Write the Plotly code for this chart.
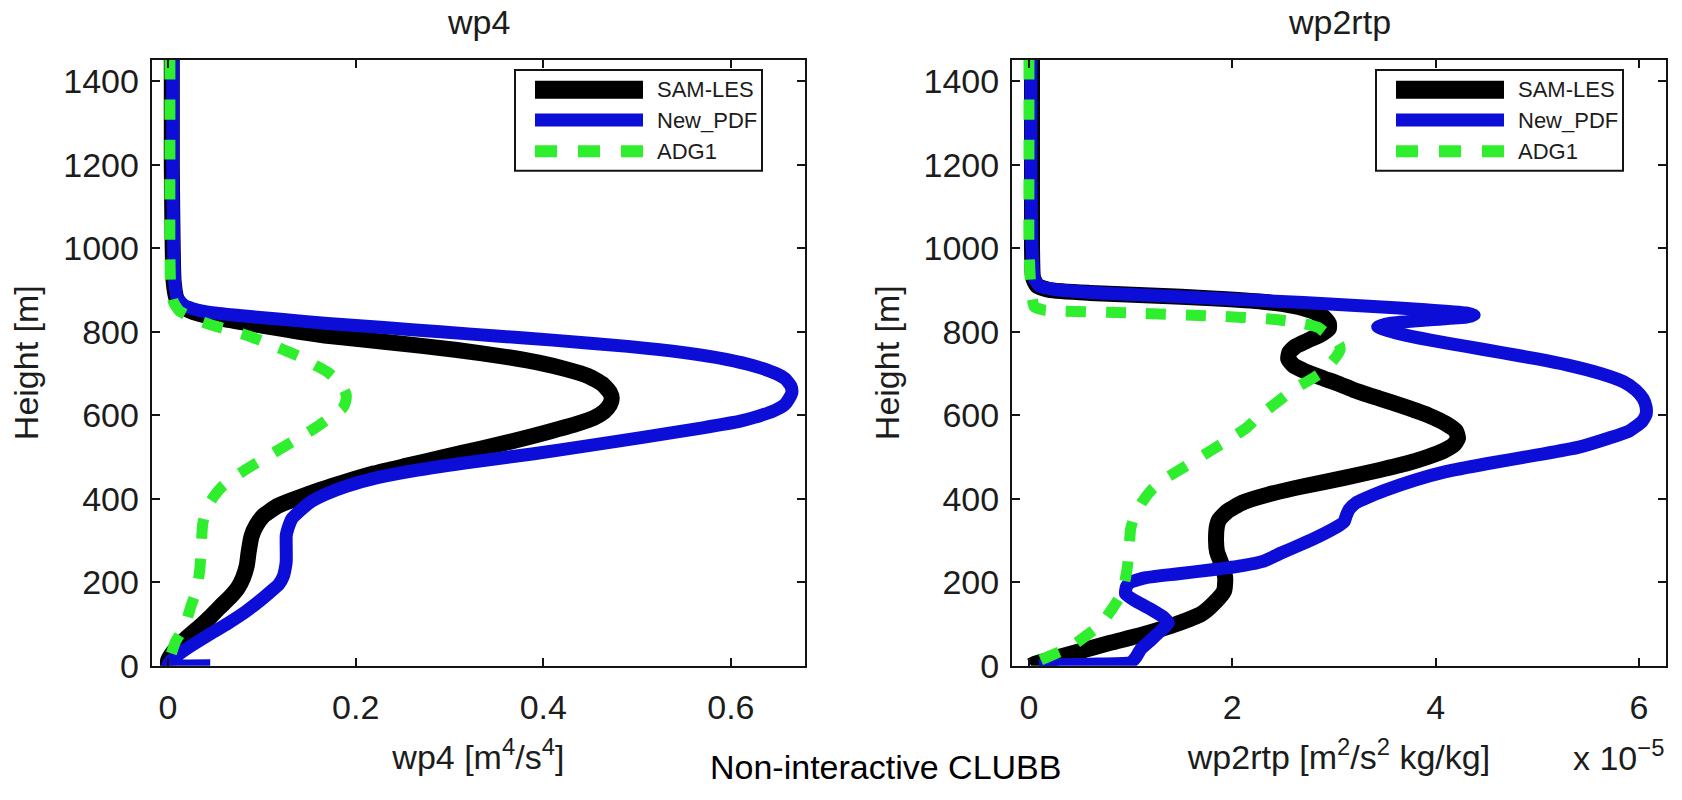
import numpy as np
import plotly.graph_objects as go

W, H = 1682, 800

# ---------------- data ----------------
SERIES = ["SAM-LES", "New_PDF", "ADG1"]
COLORS = ["#000000", "#0d0dd8", "#2eee2e"]
WIDTHS = [16, 13, 11]
DASHES = ["solid", "solid", "20px,20px"]

# wp4 panel  (height [m], wp4 [m^4/s^4])
WP4_SAM_H = [1452, 1200, 1000, 920, 880, 860, 845, 830, 815, 800, 789, 775, 757, 740, 726, 710, 694, 675,
             655, 640, 625, 609, 595, 578, 560, 539, 520, 500, 480, 461, 440, 422, 400, 383, 360, 336, 310,
             273, 240, 211, 185, 164, 140, 117, 98, 75, 50, 28, 12, 0]
WP4_SAM_V = [0.004, 0.004, 0.005, 0.006, 0.009, 0.015, 0.03, 0.06, 0.10, 0.14, 0.175, 0.235, 0.306, 0.36,
             0.395, 0.425, 0.448, 0.463, 0.471, 0.473, 0.471, 0.465, 0.455, 0.434, 0.405, 0.369, 0.333,
             0.294, 0.256, 0.22, 0.188, 0.163, 0.136, 0.117, 0.102, 0.094, 0.089, 0.086, 0.084, 0.08,
             0.074, 0.066, 0.055, 0.045, 0.036, 0.024, 0.012, 0.004, 0.0, 0.0]

WP4_NEW_H = [1452, 1200, 1000, 920, 880, 862, 850, 840, 830, 820, 810, 800, 790, 780, 765, 750, 734, 718,
             700, 687, 670, 655, 640, 625, 610, 595, 586, 570, 547, 528, 508, 490, 469, 450, 430, 410, 391,
             370, 352, 330, 312, 280, 250, 234, 215, 195, 175, 156, 130, 102, 75, 47, 25, 10, 2, 0, 0]
WP4_NEW_V = [0.005, 0.005, 0.006, 0.007, 0.01, 0.018, 0.035, 0.07, 0.12, 0.17, 0.23, 0.29, 0.35, 0.41,
             0.49, 0.55, 0.595, 0.625, 0.648, 0.658, 0.664, 0.665, 0.662, 0.657, 0.645, 0.625, 0.61, 0.57,
             0.506, 0.45, 0.39, 0.33, 0.266, 0.222, 0.19, 0.167, 0.151, 0.14, 0.132, 0.128, 0.126, 0.126,
             0.126, 0.125, 0.123, 0.118, 0.108, 0.098, 0.083, 0.064, 0.044, 0.024, 0.01, 0.002, 0.0, 0.01,
             0.045]

WP4_ADG_H = [1452, 1200, 1000, 900, 870, 850, 840, 828, 815, 804, 790, 773, 757, 741, 720, 702, 680, 660,
             648, 630, 617, 600, 570, 540, 508, 480, 453, 430, 406, 385, 367, 340, 312, 270, 234, 200, 172,
             140, 117, 95, 58, 25, 0]
WP4_ADG_V = [0.002, 0.002, 0.002, 0.003, 0.006, 0.012, 0.02, 0.031, 0.048, 0.066, 0.086, 0.106, 0.123,
             0.14, 0.157, 0.171, 0.182, 0.188, 0.19, 0.189, 0.186, 0.176, 0.157, 0.135, 0.111, 0.09, 0.071,
             0.058, 0.049, 0.043, 0.04, 0.037, 0.036, 0.035, 0.034, 0.032, 0.029, 0.024, 0.021, 0.018,
             0.008, 0.003, 0.0]

# wp2rtp panel (height [m], wp2rtp in units of 1e-5 m^2/s^2 kg/kg)
WP2_SAM_H = [1452, 1200, 1000, 930, 910, 900, 893, 887, 880, 872, 862, 850, 835, 820, 808, 795, 780, 765,
             750, 735, 720, 705, 690, 675, 660, 640, 620, 600, 580, 562, 545, 530, 515, 500, 485, 469, 450,
             430, 410, 391, 370, 350, 336, 300, 273, 240, 211, 180, 150, 125, 100, 75, 55, 35, 18, 5, 0]
WP2_SAM_V = [0.03, 0.03, 0.03, 0.04, 0.08, 0.2, 0.6, 1.2, 1.8, 2.3, 2.6, 2.78, 2.9, 2.95, 2.95, 2.88, 2.75,
             2.62, 2.56, 2.55, 2.6, 2.72, 2.88, 3.05, 3.2, 3.45, 3.7, 3.93, 4.1, 4.2, 4.22, 4.18, 4.08, 3.92,
             3.72, 3.45, 3.1, 2.7, 2.35, 2.1, 1.95, 1.87, 1.85, 1.84, 1.85, 1.9, 1.93, 1.92, 1.82, 1.7,
             1.45, 1.12, 0.8, 0.5, 0.25, 0.06, 0.02]

WP2_NEW_H = [1452, 1200, 1000, 930, 910, 900, 893, 886, 878, 870, 862, 853, 845, 840, 835, 828, 820, 812,
             805, 795, 780, 765, 750, 735, 720, 700, 680, 660, 640, 620, 602, 585, 562, 545, 523, 505, 484,
             465, 445, 420, 400, 391, 375, 359, 345, 336, 310, 289, 270, 250, 240, 230, 220, 211, 200, 190,
             172, 155, 135, 115, 102, 85, 62, 40, 20, 8, 4, 2, 0]
WP2_NEW_V = [0.02, 0.02, 0.03, 0.05, 0.1, 0.3, 0.7, 1.3, 2.0, 2.7, 3.3, 3.9, 4.3, 4.38, 4.3, 3.9, 3.55, 3.43,
             3.5, 3.65, 3.95, 4.3, 4.65, 5.0, 5.3, 5.62, 5.85, 5.97, 6.04, 6.07, 6.07, 6.03, 5.9, 5.7, 5.4,
             5.0, 4.5, 4.1, 3.8, 3.5, 3.3, 3.22, 3.15, 3.12, 3.1, 3.05, 2.85, 2.66, 2.48, 2.3, 2.1, 1.8, 1.45,
             1.15, 1.0, 0.96, 0.95, 1.05, 1.2, 1.33, 1.37, 1.3, 1.2, 1.1, 1.05, 1.0, 0.6, 0.2, 0.1]

WP2_ADG_H = [1452, 1200, 1000, 900, 870, 860, 852, 845, 838, 830, 820, 810, 800, 785, 770, 757, 740, 720,
             701, 680, 665, 648, 620, 595, 570, 540, 508, 475, 445, 420, 391, 360, 328, 300, 273, 240, 211,
             180, 160, 130, 98, 70, 47, 25, 12, 0]
WP2_ADG_V = [0.0, 0.0, 0.0, 0.02, 0.04, 0.05, 0.15, 1.0, 1.8, 2.4, 2.7, 2.85, 2.9, 3.0, 3.05, 3.06, 3.02,
             2.95, 2.87, 2.73, 2.62, 2.53, 2.38, 2.25, 2.14, 1.95, 1.74, 1.52, 1.32, 1.2, 1.11, 1.04, 1.0,
             0.99, 0.98, 0.97, 0.95, 0.92, 0.88, 0.8, 0.7, 0.55, 0.42, 0.22, 0.1, 0.02]

WP2_SCALE = 1e-5

TITLES = ["wp4", "wp2rtp"]
XTITLES = ["wp4 [m<sup>4</sup>/s<sup>4</sup>]", "wp2rtp [m<sup>2</sup>/s<sup>2</sup> kg/kg]"]
YTITLE = "Height [m]"
CAPTION = "Non-interactive CLUBB"
EXPONENT = "x 10<sup>−5</sup>"

Y_TICKS = [0, 200, 400, 600, 800, 1000, 1200, 1400]
X1_TICKS = [0, 0.2, 0.4, 0.6]
X1_LABELS = ["0", "0.2", "0.4", "0.6"]
X2_TICKS = [0, 2, 4, 6]
X2_LABELS = ["0", "2", "4", "6"]

# ---------------- layout geometry (pixels) ----------------
def px(x):
    return x / W

def py(y):
    return 1 - y / H

PLOT_TOP, PLOT_BOT = 61, 682
L_X0, L_X1 = 151.7, 805
R_X0, R_X1 = 1012, 1666

FONT = "Liberation Sans, Arial, Helvetica, sans-serif"
TXT = "#1c1c1c"
AX = "#141414"

fig = go.Figure()

panels = [
    ("x", "y", [(WP4_SAM_H, WP4_SAM_V), (WP4_NEW_H, WP4_NEW_V), (WP4_ADG_H, WP4_ADG_V)], 1.0),
    ("x2", "y2", [(WP2_SAM_H, WP2_SAM_V), (WP2_NEW_H, WP2_NEW_V), (WP2_ADG_H, WP2_ADG_V)], WP2_SCALE),
]
for xa, ya, series, scale in panels:
    for i, (h, v) in enumerate(series):
        fig.add_trace(go.Scatter(
            x=np.array(v) * scale, y=h, mode="lines", name=SERIES[i], showlegend=False,
            xaxis=xa, yaxis=ya,
            line=dict(color=COLORS[i], width=WIDTHS[i], dash=DASHES[i], shape="spline", smoothing=0.5),
        ))

axis_common = dict(
    showline=True, linecolor=AX, linewidth=2, mirror="ticks", ticks="inside", ticklen=8,
    tickwidth=1.5, tickcolor=AX, showgrid=False, zeroline=False,
    tickfont=dict(family=FONT, size=34, color=TXT),
)

fig.update_layout(
    width=W, height=H, autosize=False,
    margin=dict(l=0, r=0, t=0, b=0),
    paper_bgcolor="white", plot_bgcolor="white",
    showlegend=False,
    xaxis=dict(domain=[px(L_X0), px(L_X1)], range=[-0.0174, 0.679], anchor="y",
               tickvals=X1_TICKS, ticktext=X1_LABELS, ticklabelstandoff=10,
               title=dict(text=XTITLES[0], font=dict(family=FONT, size=34, color=TXT), standoff=21),
               **axis_common),
    yaxis=dict(domain=[py(PLOT_BOT), py(PLOT_TOP)], range=[0, 1452], anchor="x",
               tickvals=Y_TICKS, ticklabelstandoff=4,
               title=dict(text=YTITLE, font=dict(family=FONT, size=34, color=TXT), standoff=14),
               **axis_common),
    xaxis2=dict(domain=[px(R_X0), px(R_X1)], range=[-0.167 * WP2_SCALE, 6.266 * WP2_SCALE], anchor="y2",
                tickvals=[t * WP2_SCALE for t in X2_TICKS], ticktext=X2_LABELS, ticklabelstandoff=10,
                title=dict(text=XTITLES[1], font=dict(family=FONT, size=34, color=TXT), standoff=21),
                **axis_common),
    yaxis2=dict(domain=[py(PLOT_BOT), py(PLOT_TOP)], range=[0, 1452], anchor="x2",
                tickvals=Y_TICKS, ticklabelstandoff=4,
                title=dict(text=YTITLE, font=dict(family=FONT, size=34, color=TXT), standoff=14),
                **axis_common),
)

annotations = []
shapes = []

# panel titles
for t, (x0, x1) in zip(TITLES, [(L_X0, L_X1), (R_X0, R_X1)]):
    annotations.append(dict(text=t, x=px((x0 + x1) / 2), y=py(23), xref="paper", yref="paper",
                            xanchor="center", yanchor="middle", showarrow=False,
                            font=dict(family=FONT, size=34, color=TXT)))

# exponent label
annotations.append(dict(text=EXPONENT, x=px(1618), y=py(774), xref="paper", yref="paper",
                        xanchor="center", yanchor="middle", showarrow=False,
                        font=dict(family=FONT, size=34, color=TXT)))

# caption
annotations.append(dict(text=CAPTION, x=px(885), y=py(786), xref="paper", yref="paper",
                        xanchor="center", yanchor="middle", showarrow=False,
                        font=dict(family=FONT, size=34, color="#000000")))

# legends (box, samples, labels)
LEG_TOP, LEG_BOT = 71.7, 175
LEG_ROWS = [92, 123, 155]
for bx0, bx1 in [(515, 762), (1376, 1623)]:
    shapes.append(dict(type="rect", xref="paper", yref="paper", x0=px(bx0), x1=px(bx1),
                       y0=py(LEG_BOT), y1=py(LEG_TOP), line=dict(color=AX, width=2), fillcolor="white"))
    for i, name in enumerate(SERIES):
        shapes.append(dict(type="line", xref="paper", yref="paper", x0=px(bx0 + 20), x1=px(bx0 + 128),
                           y0=py(LEG_ROWS[i]), y1=py(LEG_ROWS[i]),
                           line=dict(color=COLORS[i], width=[18, 13, 12][i],
                                     dash=DASHES[i] if i < 2 else "22px,21px")))
        annotations.append(dict(text=name, x=px(bx0 + 140), y=py(LEG_ROWS[i]), xref="paper", yref="paper",
                                xanchor="left", yanchor="middle", showarrow=False,
                                font=dict(family=FONT, size=22, color=TXT)))

fig.update_layout(annotations=annotations, shapes=shapes)

fig.write_html("out.html")
